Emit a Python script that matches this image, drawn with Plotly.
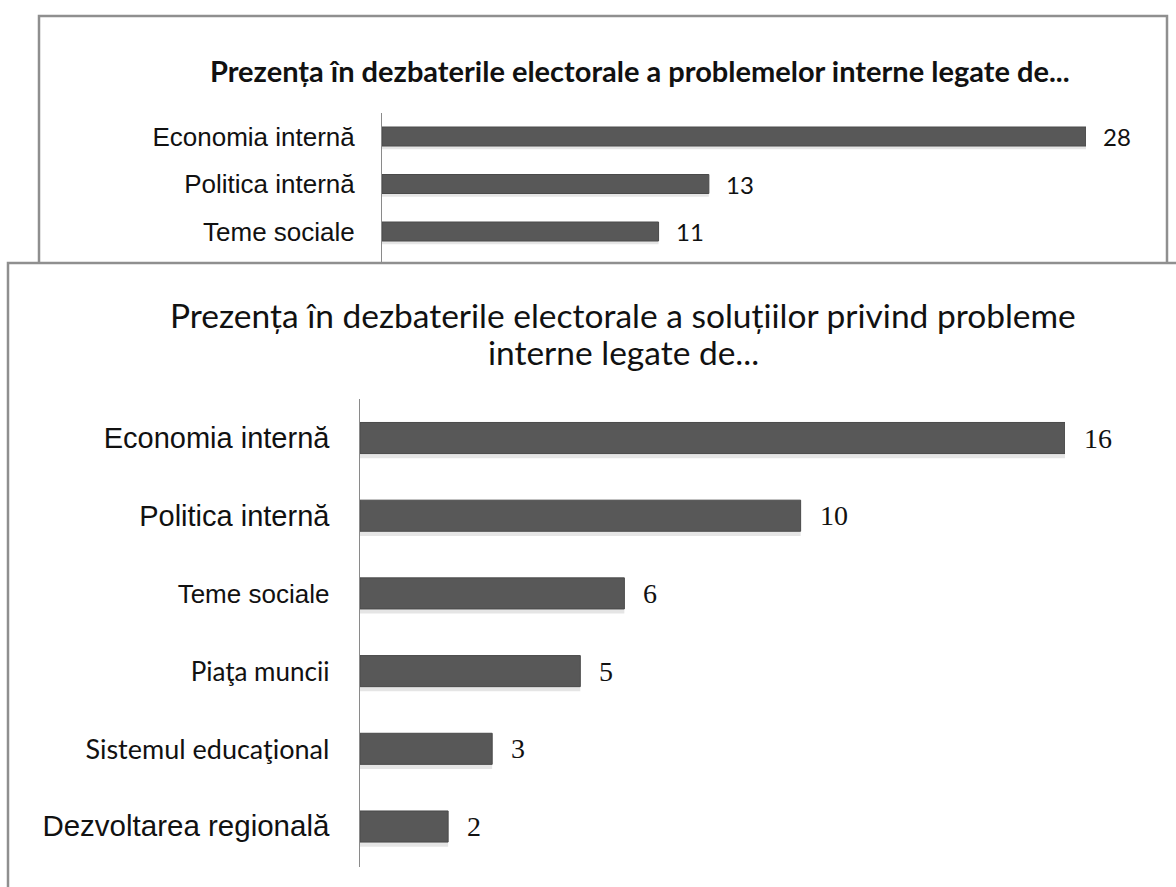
import plotly.graph_objects as go

# ---------------- data ----------------
top_title = "Prezența în dezbaterile electorale a problemelor interne legate de..."
top_categories = ["Economia internă", "Politica internă", "Teme sociale"]
top_values = [28, 13, 11]

bottom_title_lines = ["Prezența în dezbaterile electorale a soluțiilor privind probleme",
                      "interne legate de..."]
bottom_categories = ["Economia internă", "Politica internă", "Teme sociale",
                     "Piaţa muncii", "Sistemul educaţional", "Dezvoltarea regională"]
bottom_values = [16, 10, 6, 5, 3, 2]

# ---------------- styling helpers ----------------
W, H = 1176, 887
def px(x):
    return x / W
def py(y):
    return 1 - y / H

ARIAL = "Liberation Sans, Arial, sans-serif"
CALIBRI = "Lato, Carlito, Calibri, sans-serif"
SERIF = "Liberation Serif, Cambria, serif"
BAR = "#585858"
BAR_LINE = "#4a4a4a"
SHADOW = "rgba(0,0,0,0.10)"
BORDER = "#8f8f8f"

bottom_fonts = [(ARIAL, 29), (ARIAL, 29), (ARIAL, 26), (CALIBRI, 26), (CALIBRI, 27), (ARIAL, 29.5)]
bottom_ticktext = [f'<span style="font-family:{f};font-size:{s}px">{c}</span>'
                   for c, (f, s) in zip(bottom_categories, bottom_fonts)]

fig = go.Figure()

# shadows (slightly offset, same values)
fig.add_trace(go.Bar(x=top_values, y=top_categories, orientation="h", width=0.4, offset=-0.13,
                     marker=dict(color=SHADOW, line=dict(width=0)), xaxis="x", yaxis="y",
                     hoverinfo="skip", showlegend=False))
fig.add_trace(go.Bar(x=top_values, y=top_categories, orientation="h", width=0.4,
                     marker=dict(color=BAR, line=dict(color=BAR_LINE, width=1)),
                     xaxis="x", yaxis="y", showlegend=False))
fig.add_trace(go.Bar(x=bottom_values, y=bottom_categories, orientation="h", width=0.4, offset=-0.14,
                     marker=dict(color=SHADOW, line=dict(width=0)), xaxis="x2", yaxis="y2",
                     hoverinfo="skip", showlegend=False))
fig.add_trace(go.Bar(x=bottom_values, y=bottom_categories, orientation="h", width=0.4,
                     marker=dict(color=BAR, line=dict(color=BAR_LINE, width=1)),
                     xaxis="x2", yaxis="y2", showlegend=False))

annotations = []
for c, v in zip(top_categories, top_values):
    annotations.append(dict(x=v, y=c, xref="x", yref="y", text=str(v), showarrow=False,
                            xanchor="left", xshift=15, font=dict(family=CALIBRI, size=24, color="#111")))
for c, v in zip(bottom_categories, bottom_values):
    annotations.append(dict(x=v, y=c, xref="x2", yref="y2", text=str(v), showarrow=False,
                            xanchor="left", xshift=17, font=dict(family=SERIF, size=28, color="#111")))

annotations.append(dict(x=px(640), y=py(70), xref="paper", yref="paper", text=top_title,
                        showarrow=False, xanchor="center", yanchor="middle",
                        font=dict(family=CALIBRI, size=29, color="#111", weight="bold")))
for line, yc in zip(bottom_title_lines, [315, 352]):
    annotations.append(dict(x=px(623), y=py(yc), xref="paper", yref="paper", text=line,
                            showarrow=False, xanchor="center", yanchor="middle",
                            font=dict(family=CALIBRI, size=33.5, color="#111")))

shapes = [
    dict(type="rect", xref="paper", yref="paper", x0=px(39), x1=px(1167), y0=py(16), y1=py(420),
         line=dict(color=BORDER, width=2.5), fillcolor="white", layer="below"),
    dict(type="rect", xref="paper", yref="paper", x0=px(8), x1=px(1200), y0=py(263), y1=py(920),
         line=dict(color=BORDER, width=2.5), fillcolor="white", layer="below"),
]

fig.update_layout(
    width=W, height=H, margin=dict(l=0, r=0, t=0, b=0),
    paper_bgcolor="white", plot_bgcolor="rgba(0,0,0,0)",
    barmode="overlay", showlegend=False,
    annotations=annotations, shapes=shapes,
    xaxis=dict(domain=[px(382), px(1086)], range=[0, 28], visible=False, anchor="y"),
    yaxis=dict(domain=[py(262), py(113)], type="category", range=[2.642, -0.495],
               showline=True, linecolor="#8a8a8a", linewidth=1, showgrid=False, ticks="",
               zeroline=False, anchor="x", ticklabelstandoff=21,
               tickfont=dict(family=ARIAL, size=26, color="#111")),
    xaxis2=dict(domain=[px(360), px(1065)], range=[0, 16], visible=False, anchor="y2"),
    yaxis2=dict(domain=[py(867), py(399)], type="category", range=[5.521, -0.502],
                showline=True, linecolor="#8a8a8a", linewidth=1, showgrid=False, ticks="",
                zeroline=False, anchor="x2", ticklabelstandoff=24,
                tickmode="array", tickvals=bottom_categories, ticktext=bottom_ticktext,
                tickfont=dict(family=ARIAL, size=28, color="#111")),
)

fig.write_html("out.html", config={"displayModeBar": False},
               post_script="document.body.style.margin='0';document.body.style.overflow='hidden';")
